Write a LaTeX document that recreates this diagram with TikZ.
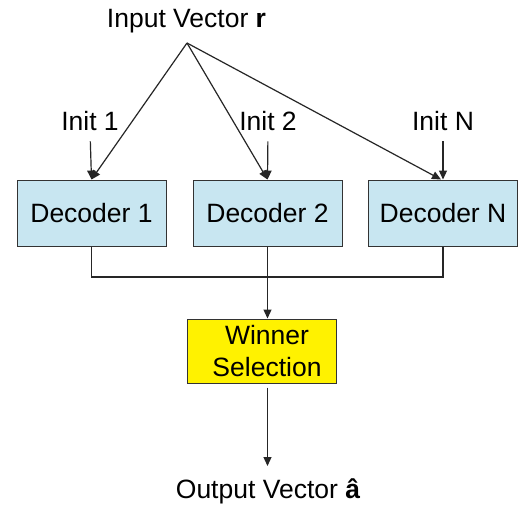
\documentclass[tikz,border=0pt]{standalone}
\usepackage{fontspec}
\setmainfont{Liberation Sans}
\usetikzlibrary{arrows.meta}
\begin{document}
\begin{tikzpicture}[x=1pt,y=-1pt,
  every node/.style={font=\fontsize{26.5}{32}\selectfont},
  decbox/.style={draw=black!80,line width=1pt,fill=cyan!20!white!90!gray,
    minimum width=149pt,minimum height=66pt,inner sep=0pt},
  winbox/.style={draw=black!80,line width=1pt,fill=yellow,
    minimum width=149pt,minimum height=64pt,inner sep=0pt,align=center},
  lbl/.style={inner sep=0pt},
  wire/.style={line width=1.2pt,black!85},
  arr/.style={wire,-{Triangle[length=9pt,width=8pt]}}]
\path[use as bounding box,fill=white] (0,0) rectangle (520,504);

% inputs
\node[lbl] (inp) at (186.5,21) {Input Vector \textbf{r}};
\coordinate (apex) at (187,43);
\node[lbl,anchor=base] (i1) at (90,130) {Init 1};
\node[lbl,anchor=base] (i2) at (268,130) {Init 2};
\node[lbl,anchor=base] (iN) at (443,130) {Init N};

% decoders
\node[decbox] (d1) at (91.5,213) {Decoder 1};
\node[decbox] (d2) at (267.5,213) {Decoder 2};
\node[decbox] (dN) at (443,213) {Decoder N};

% selection and output
\node[winbox] (w) at (261.5,351) {\hspace*{11pt}Winner\\\hspace*{11pt}Selection};
\node[lbl,anchor=base] (out) at (268,498) {Output Vector \textbf{\^a}};
\coordinate (outtip) at (267.5,466);

% connectors
\draw[arr] (apex) -- (d1.north);
\draw[arr] (apex) -- (d2.north);
\draw[arr] (apex) -- ([xshift=-2pt]dN.north);
\draw[arr,shorten <=11pt] (i1.south) -- (d1.north);
\draw[arr,shorten <=11pt] (i2.south) -- (d2.north);
\draw[arr,shorten <=11pt] (iN.south) -- (dN.north);

\coordinate (bus) at (267.5,277);
\draw[wire] (d1.south) |- (bus) -| (dN.south);
\draw[arr] (d2.south) -- (d2.south |- w.north);
\draw[arr,shorten <=4pt] (outtip |- w.south) -- (outtip);
\end{tikzpicture}
\end{document}
